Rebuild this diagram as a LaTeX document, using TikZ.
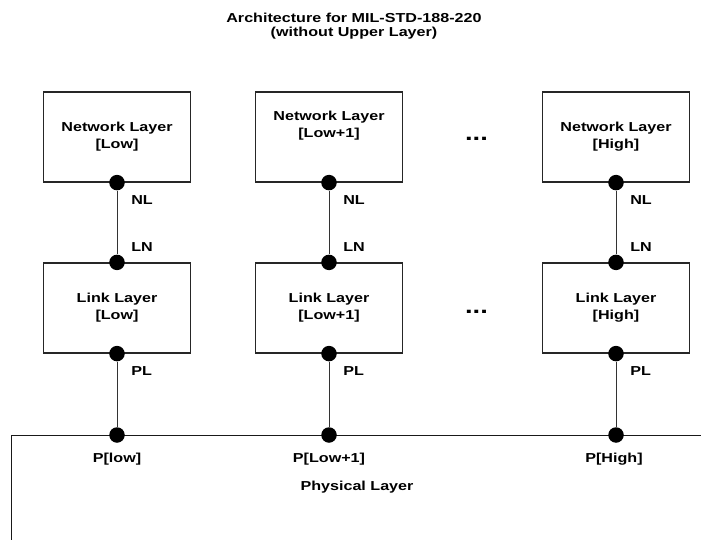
\documentclass[tikz,border=0pt]{standalone}
\usepackage{fontspec}
\setmainfont{Liberation Sans}[FakeStretch=1.24]
\usetikzlibrary{positioning}

\begin{document}
\begin{tikzpicture}[x=1pt, y=-1pt, font=\bfseries\fontsize{13pt}{17pt}\selectfont,
	layer/.style = {draw=black!85, line width=1.2pt, minimum width=147pt, minimum height=90pt, align=center},
	port/.style = {circle, fill=black, inner sep=0pt, minimum size=15.5pt},
	tag/.style = {inner sep=1pt},
	more/.style = {font=\bfseries\fontsize{22pt}{22pt}\selectfont},
	link/.style = {draw=black!80, line width=1pt}]
		\path[use as bounding box, clip] (0,0) rectangle (701,540);
		\node[align=center, font=\bfseries\fontsize{13pt}{14.5pt}\selectfont] (title) at (354,26) {Architecture for MIL-STD-188-220\\(without Upper Layer)};
		% network layers
		\node[layer] (n1) at (117,137) {Network Layer\\{[Low]}};
		\node[layer, label={[align=center, yshift=11pt]center:{Network Layer\\{[Low+1]}}}] (n2) at (329,137) {};
		\node[layer] (n3) at (616,137) {Network Layer\\{[High]}};
		\node[more] (ndots) at (476.5,138.5) {...};
		% link layers
		\node[layer] (l1) at (117,308) {Link Layer\\{[Low]}};
		\node[layer] (l2) at (329,308) {Link Layer\\{[Low+1]}};
		\node[layer] (l3) at (616,308) {Link Layer\\{[High]}};
		\node[more] (ldots) at (476.5,311.5) {...};
		% physical layer
		\node[draw=black!90, line width=1.3pt, anchor=north west, minimum width=720pt, minimum height=130pt] (phys) at (11,435) {};
		\node (physname) at (357,487) {Physical Layer};
		% ports
		\node[port] (nl1) at (n1.south) {};
		\node[port] (nl2) at (n2.south) {};
		\node[port] (nl3) at (n3.south) {};
		\node[port] (ln1) at (l1.north) {};
		\node[port] (ln2) at (l2.north) {};
		\node[port] (ln3) at (l3.north) {};
		\node[port] (pl1) at (l1.south) {};
		\node[port] (pl2) at (l2.south) {};
		\node[port] (pl3) at (l3.south) {};
		\node[port] (p1) at (pl1 |- phys.north) {};
		\node[port] (p2) at (pl2 |- phys.north) {};
		\node[port] (p3) at (pl3 |- phys.north) {};
		% port names
		\node[tag, below right=6pt and 7.5pt of nl1] {NL};
		\node[tag, below right=6pt and 7.5pt of nl2] {NL};
		\node[tag, below right=6pt and 7.5pt of nl3] {NL};
		\node[tag, above right=4.5pt and 7.5pt of ln1] {LN};
		\node[tag, above right=4.5pt and 7.5pt of ln2] {LN};
		\node[tag, above right=4.5pt and 7.5pt of ln3] {LN};
		\node[tag, below right=6pt and 7.5pt of pl1] {PL};
		\node[tag, below right=6pt and 7.5pt of pl2] {PL};
		\node[tag, below right=6pt and 7.5pt of pl3] {PL};
		\node[tag, below=9pt of p1] {P[low]};
		\node[tag, below=9pt of p2] {P[Low+1]};
		\node[tag, below=9pt of p3, xshift=-2pt] {P[High]};
		% connectors
		\draw[link] (nl1) -- (ln1);
		\draw[link] (nl2) -- (ln2);
		\draw[link] (nl3) -- (ln3);
		\draw[link] (pl1) -- (p1);
		\draw[link] (pl2) -- (p2);
		\draw[link] (pl3) -- (p3);
	\end{tikzpicture}
\end{document}
